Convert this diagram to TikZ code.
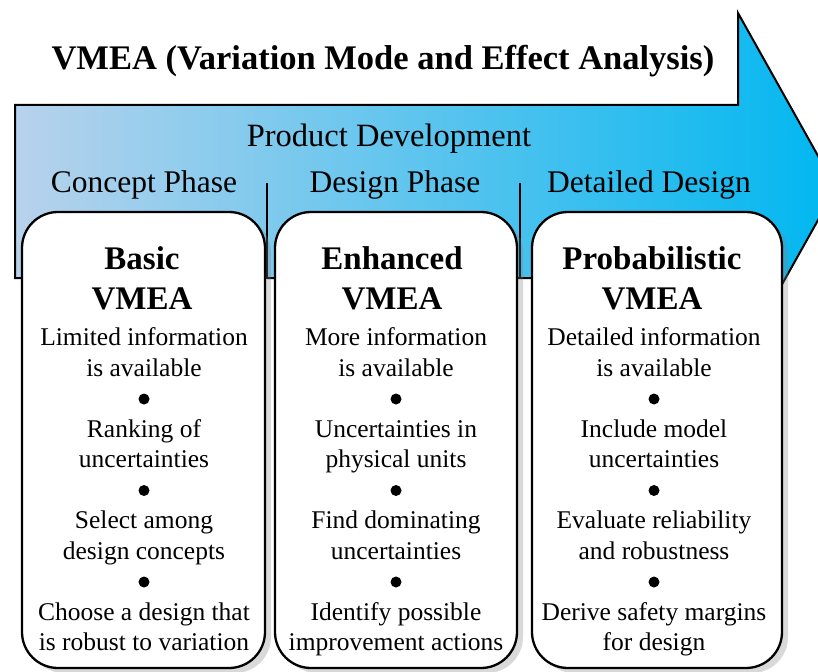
\documentclass[tikz,border=0pt]{standalone}
\usepackage{fontspec}
\setmainfont{LiberationSerif}[Extension=.ttf, UprightFont=*-Regular, BoldFont=*-Bold, ItalicFont=*-Italic, BoldItalicFont=*-BoldItalic]
\usetikzlibrary{shadows}
\definecolor{arrL}{RGB}{184,210,236}
\definecolor{arrR}{RGB}{0,183,240}
\tikzset{
  phase/.style={font=\fontsize{31.5}{36}\selectfont, inner sep=0, anchor=base},
  vbox/.style={draw, line width=2.3pt, fill=white, rounded corners=36pt,
    drop shadow={shadow xshift=6pt, shadow yshift=-5pt, opacity=0.3}},
  vtitle/.style={font=\fontsize{33}{40}\selectfont\bfseries, align=center, inner sep=0, anchor=north},
  vbody/.style={font=\fontsize{25.5}{30.5}\selectfont, align=center, inner sep=0, anchor=north},
  vdot/.style={circle, fill=black, inner sep=0, minimum size=11pt},
  sepline/.style={line width=2pt}
}
\begin{document}
\begin{tikzpicture}[x=1pt,y=-1pt]
\useasboundingbox (0,0) rectangle (818,671);
% big arrow
\path[draw, line width=2pt, left color=arrL, right color=arrR]
  (15,105) -- (738,105) -- (738,13) -- (836,188) -- (738,363) -- (738,278) -- (15,278) -- cycle;
\node[font=\fontsize{34.5}{40}\selectfont\bfseries, inner sep=0, anchor=base] (title) at (383,70) {VMEA (Variation Mode and Effect Analysis)};
\node[phase, font=\fontsize{32.5}{36}\selectfont] (pd) at (389,147) {Product Development};
\node[phase] (ph1) at (144,192) {Concept Phase};
\node[phase] (ph2) at (395,192) {Design Phase};
\node[phase] (ph3) at (649,192) {Detailed Design};
% separators
\coordinate (s1a) at (267,183); \coordinate (s1b) at (267,278);
\coordinate (s2a) at (520,183); \coordinate (s2b) at (520,278);
\draw[sepline] (s1a) -- (s1b);
\draw[sepline] (s2a) -- (s2b);
% boxes
\node[vbox, minimum width=243pt, minimum height=456pt] (box1) at (143.5,440) {};
\node[vbox, minimum width=242pt, minimum height=456pt] (box2) at (396,440) {};
\node[vbox, minimum width=250pt, minimum height=456pt] (box3) at (657,440) {};
% titles
\node[vtitle] (t1) at (142,246.5) {Basic\\VMEA};
\node[vtitle] (t2) at (392,246.5) {Enhanced\\VMEA};
\node[vtitle] (t3) at (652,246.5) {Probabilistic\\VMEA};
% bodies
\node[vbody] (b1) at (144,327.5) {Limited information\\is available\\\mbox{}\\Ranking of\\uncertainties\\\mbox{}\\Select among\\design concepts\\\mbox{}\\Choose a design that\\is robust to variation};
\node[vbody] (b2) at (396,327.5) {More information\\is available\\\mbox{}\\Uncertainties in\\physical units\\\mbox{}\\Find dominating\\uncertainties\\\mbox{}\\Identify possible\\improvement actions};
\node[vbody] (b3) at (654,327.5) {Detailed information\\is available\\\mbox{}\\Include model\\uncertainties\\\mbox{}\\Evaluate reliability\\and robustness\\\mbox{}\\Derive safety margins\\for design};
% bullets
\foreach \bx/\bn in {144/1, 396/2, 654/3} {
  \node[vdot] (d\bn a) at (\bx,399) {};
  \node[vdot] (d\bn b) at (\bx,490.5) {};
  \node[vdot] (d\bn c) at (\bx,582) {};
}
\end{tikzpicture}
\end{document}
